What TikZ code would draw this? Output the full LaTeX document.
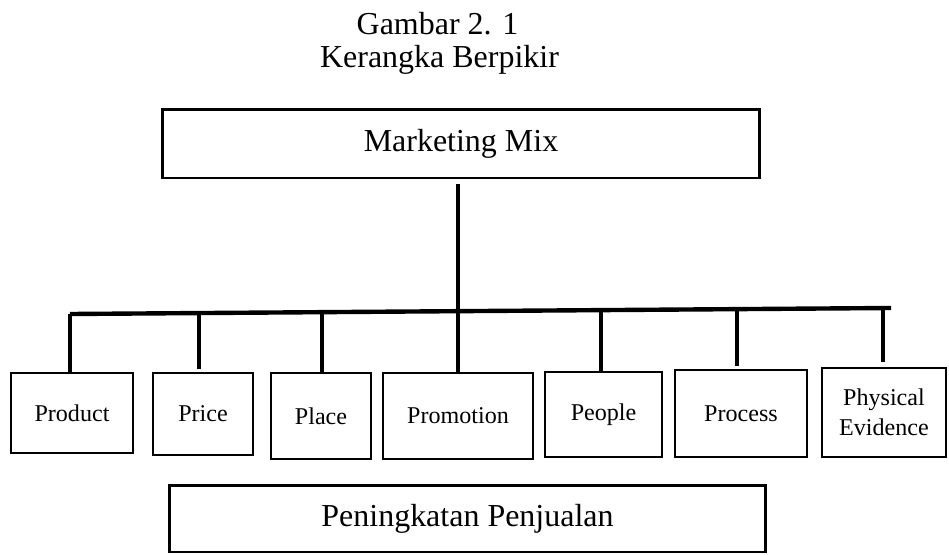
\documentclass[tikz,border=0pt]{standalone}
\usepackage{fontspec}
\setmainfont{Liberation Serif}
\usepackage{tikz}
\usetikzlibrary{positioning}
\tikzset{
  bigbox/.style={draw, line width=1.7pt, inner sep=0pt, font=\fontsize{18.2}{21}\selectfont},
  smallbox/.style={draw, line width=1.6pt, inner sep=0pt, align=center, font=\fontsize{13.7}{17}\selectfont},
  stem/.style={line width=2.5pt},
  titletext/.style={anchor=base, font=\fontsize{18.2}{21}\selectfont}
}

\begin{document}
\begin{tikzpicture}[x=0.02cm, y=-0.02cm]
    \useasboundingbox (0,0) rectangle (949,554);
    % caption
    \node[titletext] (cap1) at (437.5,35) {Gambar 2. 1};
    \node[titletext] (cap2) at (439.5,68) {Kerangka Berpikir};
    % top box
    \node[bigbox, minimum width=11.96cm, minimum height=1.38cm] (mix) at (461,143.5) {Marketing Mix};
    % the seven P's
    \node[smallbox, minimum width=2.44cm, minimum height=1.6cm] (product) at (72,413) {Product};
    \node[smallbox, minimum width=2.0cm, minimum height=1.64cm] (price) at (203,414) {Price};
    \node[smallbox, minimum width=2.0cm, minimum height=1.72cm] (place) at (321,416) {Place};
    \node[smallbox, minimum width=3.0cm, minimum height=1.72cm] (promotion) at (458,416) {Promotion};
    \node[smallbox, minimum width=2.34cm, minimum height=1.70cm] (people) at (603.5,414.5) {People};
    \node[smallbox, minimum width=2.64cm, minimum height=1.74cm] (process) at (741,413.5) {Process};
    \node[smallbox, minimum width=2.48cm, minimum height=1.78cm] (physical) at (884,412.5) {Physical\\Evidence};
    % bottom box
    \node[bigbox, minimum width=11.94cm, minimum height=1.34cm] (sales) at (467.5,518.5) {Peningkatan Penjualan};
    % horizontal bar (slightly tilted, as drawn)
    \coordinate (barL) at (70,314);
    \coordinate (barR) at (891,308);
    \draw[stem] (barL) -- (barR);
    % stem from the top box down to Promotion
    \draw[line width=2.1pt, shorten <=0.1cm] (mix.south -| promotion.north) -- (promotion.north);
    % stems down to the boxes
    \coordinate (sProduct) at (70,314);
    \coordinate (sPrice) at (199,312.5);
    \coordinate (sPlace) at (322,312);
    \coordinate (sPeople) at (601,310);
    \coordinate (sProcess) at (737,309);
    \coordinate (sPhysical) at (883,306);
    \draw[stem] (sProduct) -- (sProduct |- product.north);
    \draw[stem, shorten >=0.06cm] (sPrice) -- (sPrice |- price.north);
    \draw[stem] (sPlace) -- (sPlace |- place.north);
    \draw[stem] (sPeople) -- (sPeople |- people.north);
    \draw[stem, shorten >=0.06cm] (sProcess) -- (sProcess |- process.north);
    \draw[stem, shorten >=0.1cm] (sPhysical) -- (sPhysical |- physical.north);
\end{tikzpicture}
\end{document}
